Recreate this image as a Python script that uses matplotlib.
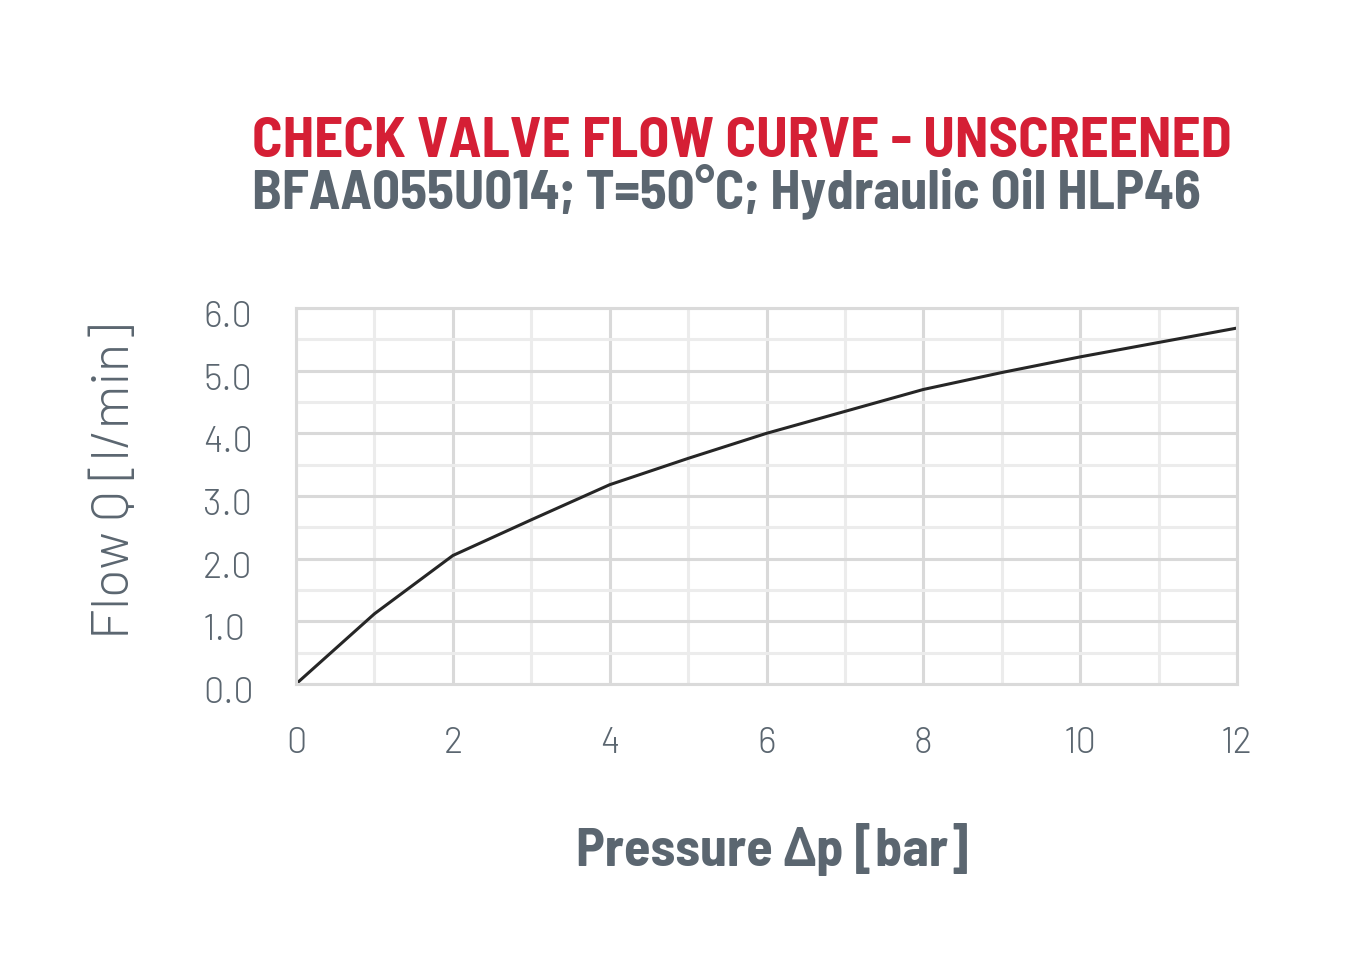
import matplotlib
matplotlib.use("Agg")
import matplotlib.pyplot as plt
import matplotlib.transforms as mtransforms
from matplotlib.ticker import MultipleLocator

pressure = [0, 1, 2, 3, 4, 5, 6, 7, 8, 9, 10, 11, 12]
flow = [0.0, 1.12, 2.05, 2.62, 3.18, 3.6, 4.0, 4.35, 4.7, 4.97, 5.22, 5.45, 5.68]

title = "CHECK VALVE FLOW CURVE - UNSCREENED"
subtitle = "BFAA055U014; T=50°C; Hydraulic Oil HLP46"
xlabel = "Pressure Δp [bar]"
ylabel = "Flow Q [l/min]"

red = "#d51f35"
grey = "#5b6670"
cond = ["Barlow Semi Condensed", "Roboto", "DejaVu Sans"]
light = ["Barlow", "Roboto", "DejaVu Sans"]

fig = plt.figure(figsize=(13.5, 9.6), dpi=100)
ax = fig.add_axes([296 / 1350, 1 - 684 / 960, (1237 - 296) / 1350, (684 - 308) / 960])

ax.plot(pressure, flow, color="#262626", linewidth=2.2, solid_capstyle="round")

ax.set_xlim(0, 12)
ax.set_ylim(0, 6)
ax.xaxis.set_major_locator(MultipleLocator(2))
ax.xaxis.set_minor_locator(MultipleLocator(1))
ax.yaxis.set_major_locator(MultipleLocator(1))
ax.yaxis.set_minor_locator(MultipleLocator(0.5))
ax.yaxis.set_major_formatter(lambda v, pos: f"{v:.1f}")

ax.grid(which="major", color="#d9d9d9", linewidth=2.2)
ax.grid(which="minor", color="#ececec", linewidth=2.2)
ax.set_axisbelow(True)
for s in ax.spines.values():
    s.set_color("#dadada")
    s.set_linewidth(2.2)
ax.tick_params(which="both", length=0)
ax.tick_params(axis="x", pad=31)
ax.tick_params(axis="y", pad=67)
shift = mtransforms.ScaledTranslation(0, -6 / 100, fig.dpi_scale_trans)
for lab in ax.get_xticklabels() + ax.get_yticklabels():
    lab.set_family(light)
    lab.set_fontweight(300)
    lab.set_fontsize(26)
    lab.set_color(grey)
for lab in ax.get_yticklabels():
    lab.set_horizontalalignment("left")
    lab.set_transform(lab.get_transform() + shift)

ax.set_ylabel(ylabel, family=light, fontweight=300, fontsize=38, color=grey)
ax.yaxis.set_label_coords(-0.166, 0.54)
fig.text(772 / 1350, 1 - 850 / 960, xlabel, family=cond, fontweight="bold", fontsize=39,
         color=grey, ha="center", va="center")

fig.text(252 / 1350, 1 - 142 / 960, title, family=cond, fontweight="bold", fontsize=41,
         color=red, ha="left", va="center")
fig.text(252 / 1350, 1 - 191 / 960, subtitle, family=cond, fontweight="bold", fontsize=39.5,
         color=grey, ha="left", va="center")

fig.savefig("out.png", dpi=100, facecolor="white")
